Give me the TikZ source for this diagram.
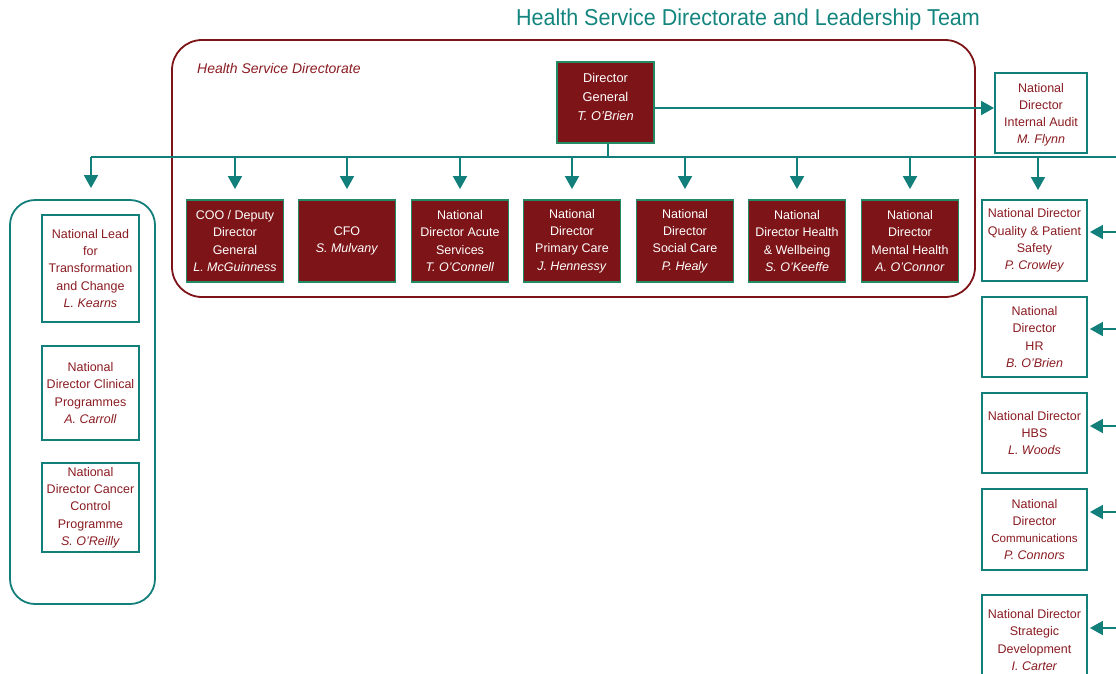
\documentclass[tikz,border=0pt]{standalone}
\usepackage{fontspec}
\setmainfont{Liberation Sans}
\usetikzlibrary{arrows.meta}
\definecolor{dkred}{HTML}{7D1417}
\definecolor{boxgreen}{HTML}{238A64}
\definecolor{teal1}{HTML}{137F7A}
\definecolor{txtred}{HTML}{8A1C22}
\definecolor{titleteal}{HTML}{13857E}
\tikzset{
  fs/.style={font=\fontsize{12.5}{17.3}\selectfont},
  redbox/.style={fs, draw=boxgreen, line width=1.8pt, fill=dkred, text=white, minimum width=97pt, minimum height=82pt, align=center, inner sep=0pt},
  whitebox/.style={fs, draw=teal1, line width=1.8pt, fill=white, text=txtred, align=center, inner sep=0pt},
  arr/.style={-{Triangle[width=14pt,length=13pt]}, draw=teal1, fill=teal1, line width=1.8pt},
  trunk/.style={draw=teal1, line width=1.8pt},
}
\begin{document}
\begin{tikzpicture}[x=1pt,y=-1pt]
\useasboundingbox (0,0) rectangle (1116,673);
\clip (0,0) rectangle (1116,673);
% title
\node[text=titleteal, font=\fontsize{23}{26}\selectfont, anchor=center] (title) at (748,20) {\scalebox{0.935}[1]{Health Service Directorate and Leadership Team}};
% directorate frame
\draw[draw=dkred, line width=1.8pt, rounded corners=30pt] (172,40) rectangle (975,297);
\node[text=txtred, font=\fontsize{14}{16}\selectfont\itshape, anchor=west, inner sep=0pt] (hsd) at (197,68) {Health Service Directorate};
% director general
\node[redbox, minimum width=97pt, minimum height=81pt] (dg) at (605.5,102.5) {\raisebox{1.5pt}[0pt][0pt]{\fontsize{12.8}{19}\selectfont\begin{tabular}{@{}c@{}}Director\\General\\\textit{T. O'Brien}\end{tabular}}};
% internal audit
\node[whitebox, minimum width=92pt, minimum height=80pt] (ia) at (1041,113) {\raisebox{-4.5pt}[0pt][0pt]{\begin{tabular}{@{}c@{}}National\\Director\\Internal Audit\\\textit{M. Flynn}\end{tabular}}};
\draw[arr] (dg.east |- 0,108) -- (ia.west |- 0,108);
% row boxes
\node[redbox] (coo) at (235,241) {COO / Deputy\\Director\\General\\\textit{L. McGuinness}};
\node[redbox] (cfo) at (347,241) {CFO\\\textit{S. Mulvany}};
\node[redbox] (acute) at (460,241) {National\\Director Acute\\Services\\\textit{T. O'Connell}};
\node[redbox] (prim) at (572,241) {National\\Director\\Primary Care\\\textit{J. Hennessy}};
\node[redbox] (soc) at (685,241) {National\\Director\\Social Care\\\textit{P. Healy}};
\node[redbox] (hw) at (797,241) {National\\Director Health\\\& Wellbeing\\\textit{S. O'Keeffe}};
\node[redbox] (mh) at (910,241) {National\\Director\\Mental Health\\\textit{A. O'Connor}};
% left group
\node[draw=teal1, line width=1.8pt, rounded corners=25pt, minimum width=145pt, minimum height=404pt, inner sep=0pt] (lg) at (82.5,402) {};
\node[whitebox, minimum width=97pt, minimum height=107pt] (lead) at (90.5,268.5) {National Lead\\for\\Transformation\\and Change\\\textit{L. Kearns}};
\node[whitebox, minimum width=97pt, minimum height=94pt] (clin) at (90.5,393) {National\\Director Clinical\\Programmes\\\textit{A. Carroll}};
\node[whitebox, minimum width=97pt, minimum height=89pt] (canc) at (90.5,507.5) {National\\Director Cancer\\Control\\Programme\\\textit{S. O'Reilly}};
% right column
\node[whitebox, minimum width=105pt, minimum height=81pt] (qps) at (1034.5,240.5) {National Director\\Quality \& Patient\\Safety\\\textit{P. Crowley}};
\node[whitebox, minimum width=105pt, minimum height=80pt] (hr) at (1034.5,337) {National\\Director\\HR\\\textit{B. O'Brien}};
\node[whitebox, minimum width=105pt, minimum height=80pt] (hbs) at (1034.5,433) {National Director\\HBS\\\textit{L. Woods}};
\node[whitebox, minimum width=105pt, minimum height=81pt] (comm) at (1034.5,529.5) {National\\Director\\{\fontsize{11.6}{15}\selectfont Communications}\\\textit{P. Connors}};
\node[whitebox, minimum width=105pt, minimum height=90pt] (strat) at (1034.5,640) {National Director\\Strategic\\Development\\\textit{I. Carter}};
% trunk
\coordinate (tl) at (91,157);
\coordinate (tr) at (1116,157);
\coordinate (dgs) at ([xshift=2.5pt]dg.south);
\draw[trunk] (dgs) -- (dgs |- tl);
\draw[trunk] (tl) -- (tr);
\foreach \n in {coo,cfo,acute,prim,soc,hw,mh}{
  \draw[arr, shorten >=10pt] (\n.north |- tl) -- (\n.north);
}
\coordinate (qpst) at (1038,200);
\draw[arr, shorten >=10pt] (qpst |- tl) -- (qpst);
\draw[arr, shorten >=11pt] (tl) -- (lg.north -| tl);
% right incoming arrows
\foreach \n/\yy in {qps/232,hr/329,hbs/426,comm/512,strat/628}{
  \coordinate (r\n) at (1116,\yy);
  \draw[arr, shorten >=2pt] (r\n) -- (\n.east |- r\n);
}
\end{tikzpicture}
\end{document}
